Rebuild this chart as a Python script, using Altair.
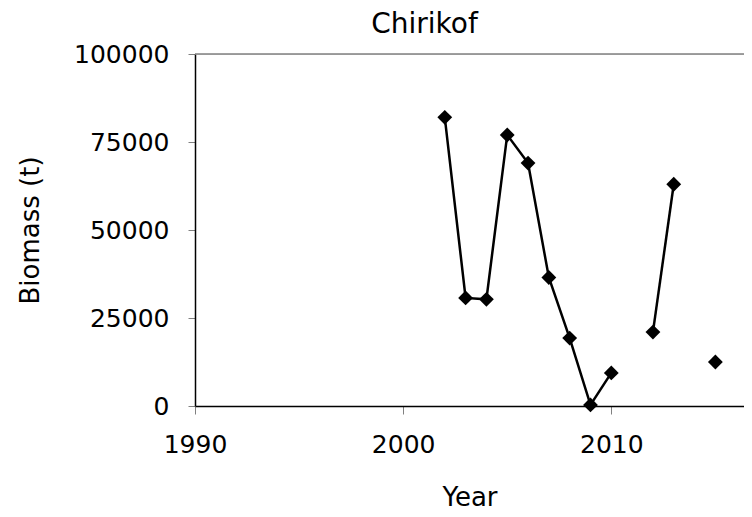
import altair as alt
import pandas as pd

years = [2002, 2003, 2004, 2005, 2006, 2007, 2008, 2009, 2010, 2012, 2013, 2015]
biomass = [82000, 30700, 30300, 77000, 69000, 36500, 19300, 300, 9400, 21000, 63000, 12500]
segment = [1, 1, 1, 1, 1, 1, 1, 1, 1, 2, 2, 3]

x_ticks = [1990, 2000, 2010]
y_ticks = [0, 25000, 50000, 75000, 100000]
y_max = [100000]

df = pd.DataFrame({"Year": years, "Biomass": biomass, "seg": segment})
top_df = pd.DataFrame({"Biomass": y_max})

FONT = "DejaVu Sans"
W = 549
X_END = 1990 + W / 20.815

x = alt.X(
    "Year:Q",
    scale=alt.Scale(domain=[1990, X_END], nice=False, zero=False),
    axis=alt.Axis(
        values=x_ticks, format="d", title="Year", grid=False,
        domainColor="black", domainWidth=1.5, tickColor="#808080", tickSize=8,
        labelFontSize=25, labelFont=FONT, labelColor="black", labelPadding=18,
        titleFontSize=26, titleFont=FONT, titleFontWeight="normal", titleColor="black",
        titlePadding=27, labelFlush=False,
    ),
)
y = alt.Y(
    "Biomass:Q",
    scale=alt.Scale(domain=[0, 100000], nice=False),
    axis=alt.Axis(
        values=y_ticks, format="d", title="Biomass (t)", grid=False,
        domainColor="black", domainWidth=1.5, tickColor="#808080", tickSize=7,
        labelFontSize=25, labelFont=FONT, labelColor="black", labelPadding=19,
        titleFontSize=26, titleFont=FONT, titleFontWeight="normal", titleColor="black",
        titlePadding=30, labelFlush=False,
    ),
)

top_rule = alt.Chart(top_df).mark_rule(color="#808080", strokeWidth=1.5).encode(y=y)
line = alt.Chart(df).mark_line(color="black", strokeWidth=2.5).encode(x=x, y=y, detail="seg:N")
pts = alt.Chart(df).mark_point(shape="diamond", filled=True, color="black", size=220, opacity=1).encode(x=x, y=y)

chart = (
    alt.layer(top_rule, line, pts)
    .properties(
        width=W,
        height=352,
        padding={"left": 187, "top": 46, "right": 0, "bottom": 108},
        autosize=alt.AutoSizeParams(type="none"),
        title=alt.TitleParams(
            "Chirikof", fontSize=28, font=FONT, fontWeight="normal", color="black",
            anchor="middle", dx=-45, offset=3,
        ),
    )
    .configure_view(stroke=None)
    .configure(background="white")
)

chart.save("out.html", embed_options={"renderer": "svg", "actions": False})
